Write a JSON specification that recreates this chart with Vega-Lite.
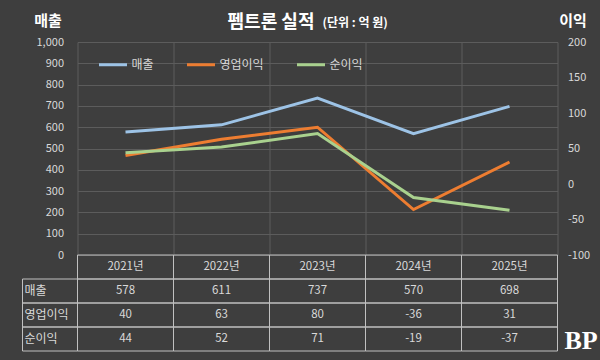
{
  "$schema": "https://vega.github.io/schema/vega-lite/v6.json",
  "background": "#3e3e3e",
  "padding": {"left": 21.5, "top": 13, "right": 12, "bottom": 7},
  "columns": 2,
  "spacing": 0,
  "bounds": "flush",
  "config": {
    "view": {"stroke": null},
    "font": "Noto Sans CJK KR",
    "axis": {"labelFont": "Noto Sans CJK KR", "titleFont": "Noto Sans CJK KR"},
    "legend": {"labelFont": "Noto Sans CJK KR"}
  },
  "datasets": {
    "fin": [
      {"year": "2021년", "metric": "매출", "value": 578},
      {"year": "2022년", "metric": "매출", "value": 611},
      {"year": "2023년", "metric": "매출", "value": 737},
      {"year": "2024년", "metric": "매출", "value": 570},
      {"year": "2025년", "metric": "매출", "value": 698},
      {"year": "2021년", "metric": "영업이익", "value": 40},
      {"year": "2022년", "metric": "영업이익", "value": 63},
      {"year": "2023년", "metric": "영업이익", "value": 80},
      {"year": "2024년", "metric": "영업이익", "value": -36},
      {"year": "2025년", "metric": "영업이익", "value": 31},
      {"year": "2021년", "metric": "순이익", "value": 44},
      {"year": "2022년", "metric": "순이익", "value": 52},
      {"year": "2023년", "metric": "순이익", "value": 71},
      {"year": "2024년", "metric": "순이익", "value": -19},
      {"year": "2025년", "metric": "순이익", "value": -37}
    ]
  },
  "concat": [
    {
      "width": 55,
      "height": 213,
      "data": {"values": []},
      "mark": "text",
      "encoding": {}
    },
    {
      "width": 480,
      "height": 213,
      "data": {"name": "fin"},
      "title": {
        "text": "(단위 : 억 원)",
        "frame": "group",
        "anchor": "start",
        "align": "left",
        "baseline": "bottom",
        "dx": 245,
        "offset": -29,
        "fontSize": 12,
        "fontWeight": "bold",
        "color": "#ffffff",
        "font": "Noto Sans CJK KR"
      },
      "encoding": {
        "x": {
          "field": "year",
          "type": "ordinal",
          "scale": {"type": "band", "paddingInner": 0, "paddingOuter": 0},
          "axis": {
            "orient": "top",
            "grid": true,
            "tickBand": "extent",
            "gridColor": "#5c5c5c",
            "gridWidth": 1,
            "labels": false,
            "ticks": false,
            "domain": false,
            "title": "펨트론 실적",
            "titleX": 193,
            "titleY": -20,
            "titleAlign": "center",
            "titleBaseline": "middle",
            "titleFontSize": 18,
            "titleFontWeight": "bold",
            "titleColor": "#ffffff"
          }
        },
        "color": {
          "field": "metric",
          "type": "nominal",
          "scale": {"domain": ["매출", "영업이익", "순이익"], "range": ["#9dc3e6", "#ed7d31", "#a9d18e"]},
          "legend": {
            "orient": "none",
            "legendX": 75,
            "legendY": 7,
            "direction": "horizontal",
            "title": null,
            "padding": 0,
            "symbolType": "stroke",
            "symbolStrokeWidth": 3,
            "symbolSize": 784,
            "labelColor": "#d9d9d9",
            "labelFontSize": 12,
            "labelOffset": 3,
            "columnPadding": 26
          }
        }
      },
      "layer": [
        {
          "transform": [{"filter": "datum.metric === '매출'"}],
          "mark": {"type": "line", "strokeWidth": 3},
          "encoding": {
            "y": {
              "field": "value",
              "type": "quantitative",
              "scale": {"domain": [0, 1000], "nice": false},
              "axis": {
                "values": [0, 100, 200, 300, 400, 500, 600, 700, 800, 900, 1000],
                "format": ",d",
                "grid": true,
                "gridColor": "#5c5c5c",
                "ticks": false,
                "domain": false,
                "labelColor": "#d9d9d9",
                "labelFontSize": 11,
                "labelPadding": 14,
                "title": "매출",
                "titleAngle": 0,
                "titleX": -30,
                "titleY": -22,
                "titleAlign": "center",
                "titleBaseline": "middle",
                "titleFontSize": 15,
                "titleFontWeight": "bold",
                "titleColor": "#ffffff"
              }
            }
          }
        },
        {
          "transform": [{"filter": "datum.metric !== '매출'"}],
          "mark": {"type": "line", "strokeWidth": 3},
          "encoding": {
            "y": {
              "field": "value",
              "type": "quantitative",
              "scale": {"domain": [-100, 200], "nice": false},
              "axis": {
                "orient": "right",
                "values": [-100, -50, 0, 50, 100, 150, 200],
                "labelExpr": "'' + datum.value",
                "grid": false,
                "ticks": false,
                "domain": false,
                "labelColor": "#d9d9d9",
                "labelFontSize": 11,
                "labelPadding": 10,
                "title": "이익",
                "titleAngle": 0,
                "titleX": 15,
                "titleY": -22,
                "titleAlign": "center",
                "titleBaseline": "middle",
                "titleFontSize": 15,
                "titleFontWeight": "bold",
                "titleColor": "#ffffff"
              }
            }
          }
        }
      ],
      "resolve": {"scale": {"y": "independent"}}
    },
    {
      "width": 55,
      "height": 96,
      "data": {"name": "fin"},
      "transform": [{"filter": "datum.year === '2021년'"}],
      "encoding": {
        "y": {
          "field": "metric",
          "type": "nominal",
          "sort": null,
          "scale": {"domain": ["header", "매출", "영업이익", "순이익"], "paddingInner": 0, "paddingOuter": 0},
          "axis": null
        }
      },
      "layer": [
        {
          "mark": {"type": "rect", "fill": "#3e3e3e", "fillOpacity": 0, "stroke": "#c0c0c0", "strokeWidth": 1},
          "encoding": {
            "x": {"datum": "구분", "type": "nominal", "scale": {"paddingInner": 0, "paddingOuter": 0}, "axis": null}
          }
        },
        {
          "mark": {"type": "text", "align": "left", "baseline": "middle", "dx": 2, "fontSize": 12, "color": "#d9d9d9"},
          "encoding": {
            "x": {"datum": "구분", "type": "nominal", "bandPosition": 0, "axis": null},
            "text": {"field": "metric", "type": "nominal"}
          }
        }
      ]
    },
    {
      "width": 480,
      "height": 96,
      "data": {"name": "fin"},
      "encoding": {
        "x": {
          "field": "year",
          "type": "ordinal",
          "scale": {"type": "band", "paddingInner": 0, "paddingOuter": 0},
          "axis": null
        }
      },
      "layer": [
        {
          "mark": {"type": "rect", "fill": "#3e3e3e", "fillOpacity": 0, "stroke": "#c0c0c0", "strokeWidth": 1},
          "encoding": {
            "y": {
              "field": "metric",
              "type": "nominal",
              "scale": {"domain": ["header", "매출", "영업이익", "순이익"], "paddingInner": 0, "paddingOuter": 0},
              "axis": {"orient": "right", "labels": false, "ticks": false, "domain": false, "grid": false, "title": "BP", "titleAngle": 0, "titleX": 23, "titleY": 85, "titleAlign": "center", "titleBaseline": "middle", "titleFont": "Liberation Serif", "titleFontSize": 26, "titleFontWeight": "bold", "titleColor": "#ffffff"}
            }
          }
        },
        {
          "transform": [{"filter": "datum.metric === '매출'"}],
          "mark": {"type": "rect", "fill": "#3e3e3e", "fillOpacity": 0, "stroke": "#c0c0c0", "strokeWidth": 1},
          "encoding": {
            "y": {"datum": "header", "type": "nominal", "axis": {"orient": "right", "labels": false, "ticks": false, "domain": false, "grid": false, "title": "BP", "titleAngle": 0, "titleX": 23, "titleY": 85, "titleAlign": "center", "titleBaseline": "middle", "titleFont": "Liberation Serif", "titleFontSize": 26, "titleFontWeight": "bold", "titleColor": "#ffffff"}}
          }
        },
        {
          "mark": {"type": "text", "baseline": "middle", "fontSize": 11.5, "color": "#d9d9d9"},
          "encoding": {
            "y": {"field": "metric", "type": "nominal", "axis": {"orient": "right", "labels": false, "ticks": false, "domain": false, "grid": false, "title": "BP", "titleAngle": 0, "titleX": 23, "titleY": 85, "titleAlign": "center", "titleBaseline": "middle", "titleFont": "Liberation Serif", "titleFontSize": 26, "titleFontWeight": "bold", "titleColor": "#ffffff"}},
            "text": {"field": "value", "type": "nominal"}
          }
        },
        {
          "transform": [{"filter": "datum.metric === '매출'"}],
          "mark": {"type": "text", "baseline": "middle", "fontSize": 11.5, "color": "#d9d9d9"},
          "encoding": {
            "y": {"datum": "header", "type": "nominal", "axis": {"orient": "right", "labels": false, "ticks": false, "domain": false, "grid": false, "title": "BP", "titleAngle": 0, "titleX": 23, "titleY": 85, "titleAlign": "center", "titleBaseline": "middle", "titleFont": "Liberation Serif", "titleFontSize": 26, "titleFontWeight": "bold", "titleColor": "#ffffff"}},
            "text": {"field": "year", "type": "nominal"}
          }
        }
      ]
    }
  ]
}
